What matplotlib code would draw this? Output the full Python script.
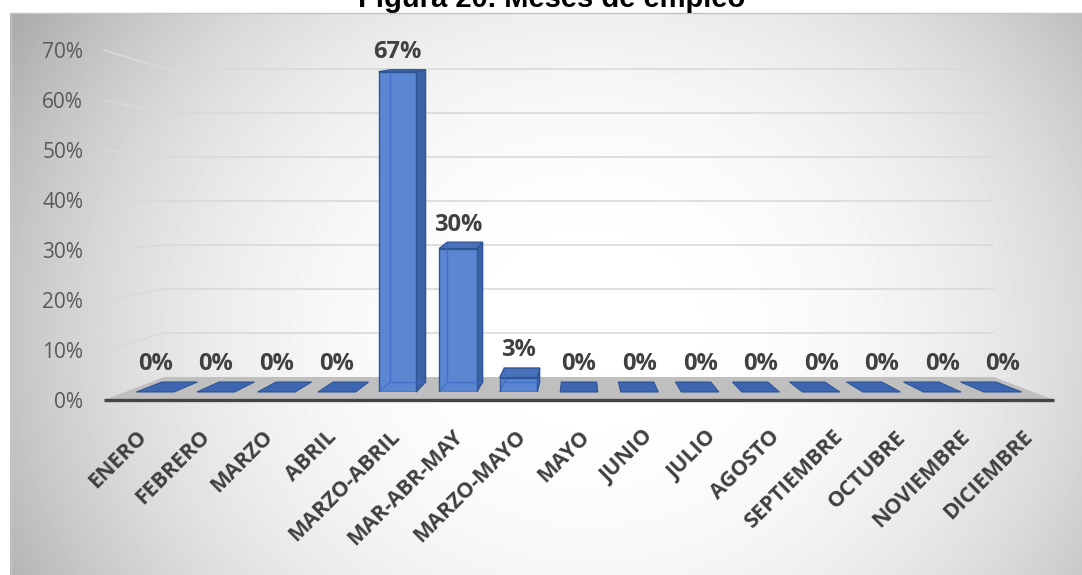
#!/usr/bin/env python3
"""
Figura 20 - Meses de empleo.

Excel-style 3D column chart rebuilt with plain matplotlib: a front
plane axes carries the scale and the tick labels, the floor, walls and
bar sides are projected from it with a small perspective helper, and
the bar front faces are real ax.bar() bars on a second axes placed at
the bars' depth.
"""

import numpy as np
import matplotlib
matplotlib.use("Agg")
import matplotlib.pyplot as plt
from matplotlib.patches import Polygon
from matplotlib.lines import Line2D
from matplotlib.transforms import IdentityTransform

# ---------------------------------------------------------------------------
# Data
# ---------------------------------------------------------------------------
TITULO = "Figura 20. Meses de empleo"
MESES = ["ENERO", "FEBRERO", "MARZO", "ABRIL", "MARZO-ABRIL", "MAR-ABR-MAY",
         "MARZO-MAYO", "MAYO", "JUNIO", "JULIO", "AGOSTO", "SEPTIEMBRE",
         "OCTUBRE", "NOVIEMBRE", "DICIEMBRE"]
PORCENTAJE = [0, 0, 0, 0, 67, 30, 3, 0, 0, 0, 0, 0, 0, 0, 0]
Y_TICKS = [0, 10, 20, 30, 40, 50, 60, 70]

# ---------------------------------------------------------------------------
# Style / "camera"
# ---------------------------------------------------------------------------
W, H = 1082, 575
VP_X = 579            # horizontal vanishing point (px)
SHRINK = 0.127        # horizontal shrink from front (t=0) to back wall (t=1)
RISE = 23             # floor rises this many px from front to back wall
DEPTH_T = [0.0, 0.348, 0.783, 1.0]
V_SCALE = [1.0, 0.956, 0.932, 0.88]
T_FRONT, T_BACK = 0.348, 0.783
BAR_HALF = 0.31

FRONT = "#5a86d2"
SIDE = "#3d62a6"
TOP = "#4a72ba"
FLAT = "#3e66b0"
EDGE = "#2f5597"
HIDDEN = "#3f6cc2"
GRID = "#d9d9d9"
FLOOR = "#bfbfbf"
TEXT = "#404040"

plt.rcParams["font.family"] = ["Open Sans", "DejaVu Sans"]
ID = IdentityTransform()


def proj(ax, x, v, t):
    """Data point (x, v) of the front plane pushed back to depth t."""
    x0, y0 = ax.transData.transform((x, 0.0))
    _, y1 = ax.transData.transform((x, v))
    sx = VP_X + (x0 - VP_X) * (1 - SHRINK * t)
    sy = y0 + RISE * t + (y1 - y0) * np.interp(t, DEPTH_T, V_SCALE)
    return sx, sy


def face(ax, pts, fc, ec, z, lw=1.0):
    ax.add_patch(Polygon(pts, closed=True, facecolor=fc, edgecolor=ec,
                         linewidth=lw, transform=ID, clip_on=False, zorder=z))


def seg(ax, p, q, color, lw, z, alpha=1.0):
    ax.add_line(Line2D([p[0], q[0]], [p[1], q[1]], color=color, lw=lw,
                       alpha=alpha, transform=ID, clip_on=False, zorder=z,
                       solid_capstyle="butt"))


fig = plt.figure(figsize=(W / 100, H / 100), dpi=100)

# background: light radial gradient inside the chart box
ax_bg = fig.add_axes([0, 0, 1, 1], zorder=0)
xs = np.arange(10, W) + 0.5
ys = np.arange(13, H) + 0.5
gx, gy = np.meshgrid(xs, ys)
dist = np.hypot((gx - 590) / 560, (gy - 330) / 500)
ax_bg.imshow(1 - 0.21 * dist ** 2.5, cmap="gray", vmin=0, vmax=1,
             extent=(10, W, 0, H - 13), origin="upper", aspect="auto",
             interpolation="bilinear")
ax_bg.plot([10.5, 10.5, W], [0, H - 12.5, H - 12.5], color="#c4c4c4", lw=1)
ax_bg.set_xlim(0, W)
ax_bg.set_ylim(0, H)
ax_bg.axis("off")

fig.text(552 / W, 1 - 7 / H, TITULO, ha="center", va="baseline",
         fontsize=21, fontweight="bold", family="Liberation Sans",
         color="black")

# front plane: scale + tick labels
ax = fig.add_axes([104 / W, 175 / H, 950 / W, 350 / H], zorder=1)
n = len(MESES)
ax.set_xlim(-0.5, n - 0.5)
ax.set_ylim(0, 70)
ax.patch.set_visible(False)
for s in ax.spines.values():
    s.set_visible(False)
ax.set_yticks(Y_TICKS, [f"{v}%" for v in Y_TICKS])
ax.set_xticks(range(n), MESES)
ax.tick_params(axis="y", length=0, pad=15, labelsize=15, labelcolor="#595959")
ax.tick_params(axis="x", length=0, pad=19, labelsize=15.5, labelcolor=TEXT)
for lab in ax.get_xticklabels():
    lab.set(rotation=45, ha="right", va="top", rotation_mode="anchor",
            fontweight="bold")

xl_all, xr_all = -0.5, n - 0.5

# walls: gridlines on left and back wall
for v in Y_TICKS[1:]:
    seg(ax, proj(ax, xl_all, v, 0), proj(ax, xl_all, v, 1), GRID, 1.2, 1)
    seg(ax, proj(ax, xl_all, v, 1), proj(ax, xr_all, v, 1), GRID, 1.2, 1)

# floor
face(ax, [proj(ax, xl_all, 0, 0), proj(ax, xr_all, 0, 0),
          proj(ax, xr_all, 0, 1), proj(ax, xl_all, 0, 1)], FLOOR, "none", 2, 0)
seg(ax, proj(ax, xl_all, 0, 0), proj(ax, xr_all, 0, 0), "#454545", 2.4, 3)

# bar tops / sides (and flat 0% footprints)
for i, v in enumerate(PORCENTAJE):
    xl, xr = i - BAR_HALF, i + BAR_HALF
    lid = [proj(ax, xl, v, T_FRONT), proj(ax, xr, v, T_FRONT),
           proj(ax, xr, v, T_BACK), proj(ax, xl, v, T_BACK)]
    if v == 0:
        face(ax, lid, FLAT, EDGE, 4, 0.8)
        continue
    xs_side = xr if proj(ax, i, 0, T_FRONT)[0] < VP_X else xl
    face(ax, [proj(ax, xs_side, 0, T_FRONT), proj(ax, xs_side, 0, T_BACK),
              proj(ax, xs_side, v, T_BACK), proj(ax, xs_side, v, T_FRONT)],
         SIDE, EDGE, 4, 1.0)
    face(ax, lid, TOP, EDGE, 5, 1.0)

# bar front faces live on a plane axes at the bars' depth
mx0, my0 = proj(ax, xl_all, 0, T_FRONT)
mx1, my1 = proj(ax, xr_all, 70, T_FRONT)
ax_mid = fig.add_axes([mx0 / W, my0 / H, (mx1 - mx0) / W, (my1 - my0) / H],
                      zorder=2)
ax_mid.set_xlim(-0.5, n - 0.5)
ax_mid.set_ylim(0, 70)
ax_mid.axis("off")
ax_mid.bar(range(n), PORCENTAJE, width=2 * BAR_HALF, color=FRONT,
           edgecolor=EDGE, linewidth=1.0, zorder=2)

for i, v in enumerate(PORCENTAJE):
    xl, xr = i - BAR_HALF, i + BAR_HALF
    if v > 0:
        # back edges seen through the slightly transparent column
        bl = proj(ax, xl, 0, T_BACK)
        seg(ax_mid, bl, proj(ax, xl, v, T_BACK), HIDDEN, 1.0, 3, 0.8)
        seg(ax_mid, bl, proj(ax, xr, 0, T_BACK), HIDDEN, 1.0, 3, 0.8)
        seg(ax_mid, bl, proj(ax, xl, 0, T_FRONT), HIDDEN, 1.0, 3, 0.8)
    lx = proj(ax, i, v, T_FRONT)[0]
    ly = proj(ax, i, v, T_BACK)[1]
    ax_mid.annotate(f"{v}%", xy=(lx, ly), xycoords="figure pixels",
                    xytext=(0, 4), textcoords="offset points",
                    ha="center", va="bottom", fontsize=17,
                    fontweight="bold", color=TEXT, zorder=5)

fig.savefig("out.png", dpi=100)
